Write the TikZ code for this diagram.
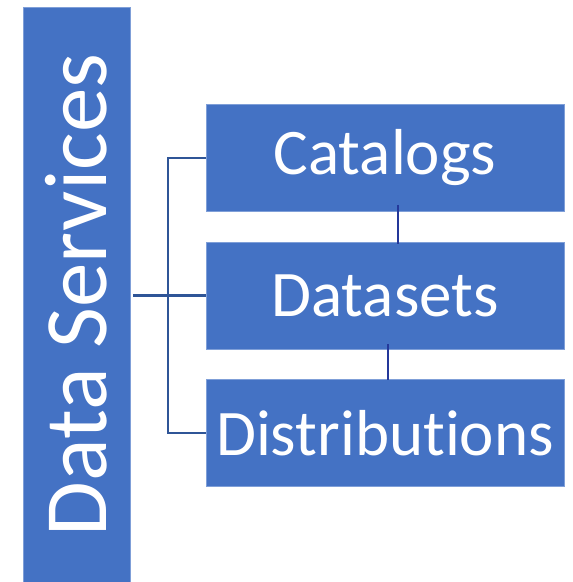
\documentclass[tikz,border=0pt]{standalone}
\usepackage{fontspec}
\setmainfont[Ligatures={NoCommon}]{Carlito}
\definecolor{boxblue}{HTML}{4472C4}
\definecolor{boxedge}{HTML}{7F9FD8}
\definecolor{linkblue}{HTML}{2F5597}
\definecolor{navy}{HTML}{24389A}
\tikzset{
  blockbox/.style={rectangle, fill=boxblue, draw=boxedge, line width=0.6pt, inner sep=0pt,
    text=white, font=\fontsize{65}{78}\selectfont, minimum width=358pt, minimum height=107pt},
  mainbox/.style={rectangle, fill=boxblue, draw=boxedge, line width=0.6pt, inner sep=0pt,
    text=white, font=\fontsize{89}{100}\selectfont, rotate=90, minimum width=576pt, minimum height=107pt},
  bracketline/.style={draw=linkblue, line width=2.2pt},
  chainline/.style={draw=navy, line width=1.2pt}
}
\begin{document}
\begin{tikzpicture}[x=1pt, y=-1pt]
\useasboundingbox (0,0) rectangle (573,582);
\clip (0,0) rectangle (573,582);
\node[mainbox] (ds) at (76.5,295) {Data Services};
\node[blockbox] (cat) at (385,158) {Catalogs};
\node[blockbox] (dat) at (385,295.5) {Datasets};
\node[blockbox] (dis) at (385,433) {Distributions};
\coordinate (bx) at (168,0);
\draw[bracketline] (cat.west) -- (cat.west -| bx) -- (dis.west -| bx) -- (dis.west);
\draw[bracketline] ([xshift=3pt]ds.south |- dat.west) -- (dat.west);
\draw[chainline] ([xshift=13pt,yshift=7pt]cat.south) -- ([xshift=13pt,yshift=-2pt]dat.north);
\draw[chainline] ([xshift=3pt,yshift=5pt]dat.south) -- ([xshift=3pt,yshift=-1pt]dis.north);
\end{tikzpicture}
\end{document}
